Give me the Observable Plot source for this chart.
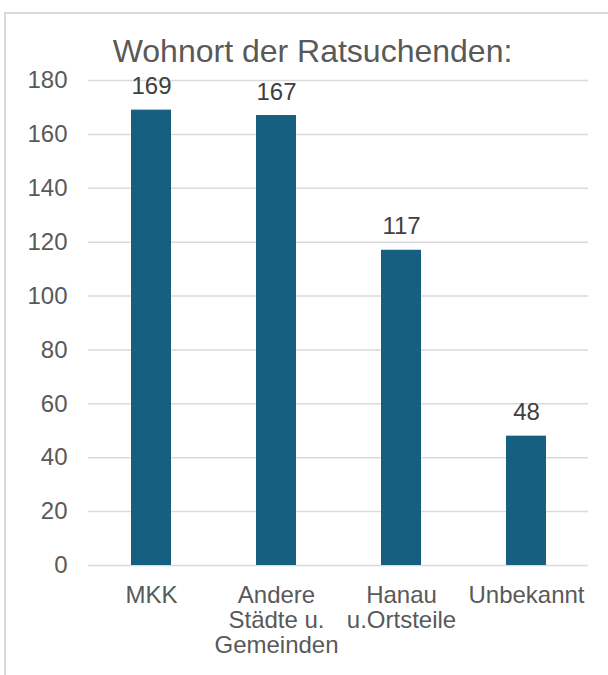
<!DOCTYPE html>
<html>
<head>
<meta charset="utf-8">
<script src="https://cdn.jsdelivr.net/npm/d3@7"></script>
<script src="https://cdn.jsdelivr.net/npm/@observablehq/plot@0.6"></script>
<style>
  html, body { margin: 0; padding: 0; background: #fff; overflow: hidden; }
  #wrap { position: relative; width: 608px; height: 675px; overflow: hidden; }
  #frame { position: absolute; left: 4px; top: 12px; width: 800px; height: 900px;
           border-left: 2px solid #d9d9d9; border-top: 2px solid #d9d9d9; box-sizing: border-box; }
  #title { position: absolute; left: 0; top: 35px; width: 625px; text-align: center;
           font-family: "Liberation Sans", Arial, sans-serif; font-size: 32px; line-height: 32px;
           color: #595959; white-space: nowrap; }
  #chart { position: absolute; left: 0; top: 0; }
</style>
</head>
<body>
<div id="wrap">
  <div id="frame"></div>
  <div id="chart"></div>
  <div id="title">Wohnort der Ratsuchenden:</div>
</div>
<script>
const categories = ["MKK", "Andere\nStädte u.\nGemeinden", "Hanau\nu.Ortsteile", "Unbekannt"];
const values = [169, 167, 117, 48];
const yTicks = [0, 20, 40, 60, 80, 100, 120, 140, 160, 180];

const data = categories.map((c, i) => ({cat: c, value: values[i]}));

const chart = Plot.plot({
  width: 608,
  height: 675,
  marginLeft: 88,
  marginRight: 20,
  marginTop: 80,
  marginBottom: 110,
  style: {
    fontFamily: "'Liberation Sans', Arial, sans-serif",
    fontSize: "24px",
    color: "#595959",
    background: "transparent",
    overflow: "visible"
  },
  x: {domain: categories, paddingInner: 0.68, paddingOuter: 0.34, label: null},
  y: {domain: [0, 180], label: null},
  marks: [
    Plot.gridY(yTicks, {stroke: "#d9d9d9", strokeOpacity: 1, strokeWidth: 1.5}),
    Plot.barY(data, {x: "cat", y: "value", fill: "#175f80"}),
    Plot.text(data, {x: "cat", y: "value", text: d => String(d.value), dy: -16,
      lineAnchor: "bottom", fill: "#404040", fontSize: 24}),
    Plot.axisY(yTicks, {tickSize: 0, tickPadding: 21, label: null, fontSize: 24}),
    Plot.axisX({tickSize: 0, tickPadding: 20, label: null, fontSize: 24, lineHeight: 25 / 24})
  ]
});
document.getElementById("chart").appendChild(chart);
</script>
</body>
</html>
